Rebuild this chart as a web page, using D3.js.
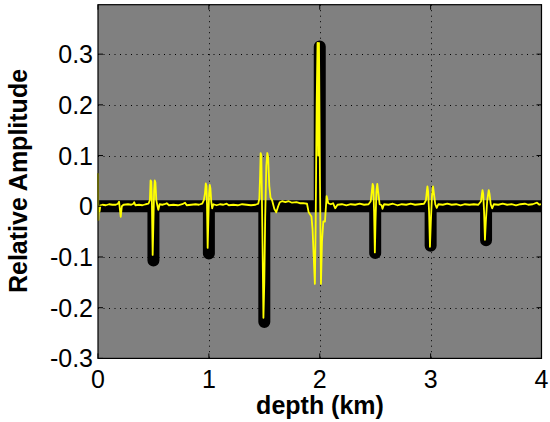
<!DOCTYPE html>
<html><head><meta charset="utf-8">
<script src="https://cdn.jsdelivr.net/npm/d3@7"></script>
<style>body{margin:0;background:#fff}svg{display:block}</style>
</head><body><svg id="c" width="550" height="422"></svg>
<script>
const xTicks = [0, 1, 2, 3, 4];
const yTicks = [-0.3, -0.2, -0.1, 0, 0.1, 0.2, 0.3];
const xDomain = [0, 4];
const yDomain = [-0.3, 0.3975];
const spikeDepth = [0.5, 1.0, 1.5, 2.0, 2.5, 3.0, 3.5];
const spikeAmp = [-0.107, -0.093, -0.228, 0.315, -0.092, -0.078, -0.067];
const traceX = [0.000,0.003,0.008,0.014,0.022,0.040,0.070,0.100,0.130,0.160,0.180,0.190,0.205,0.215,0.230,0.270,0.300,0.320,0.327,0.337,0.370,0.400,0.430,0.455,0.468,
0.474,0.481,0.486,0.493,0.499,0.506,0.512,0.518,0.526,0.535,0.544,0.556,0.580,0.600,0.620,0.640,0.680,0.720,0.760,0.785,0.800,0.840,0.880,0.910,0.940,0.955,
0.965,0.972,0.978,0.983,0.989,0.995,1.002,1.008,1.014,1.022,1.030,1.040,1.070,1.100,1.130,1.160,1.180,1.220,1.260,1.300,1.340,1.380,1.420,1.445,1.455,
1.462,1.467,1.473,1.482,1.492,1.500,1.508,1.518,1.527,1.534,1.545,1.556,1.570,1.590,1.608,1.625,1.640,1.660,1.690,1.720,1.750,1.790,1.820,1.850,1.885,1.900,1.925,1.935,
1.956,1.963,1.972,1.980,1.986,1.993,2.002,2.011,2.020,2.032,2.047,2.062,2.077,2.100,2.120,2.140,2.160,2.200,2.240,2.280,2.320,2.360,2.400,2.440,2.460,
2.470,2.477,2.483,2.490,2.497,2.503,2.511,2.519,2.526,2.540,2.558,2.566,2.580,2.620,2.660,2.700,2.740,2.780,2.820,2.860,2.900,2.940,2.958,
2.966,2.971,2.977,2.986,2.994,3.002,3.012,3.022,3.030,3.042,3.055,3.070,3.110,3.150,3.190,3.230,3.270,3.310,3.350,3.390,3.430,3.455,
3.463,3.468,3.474,3.482,3.490,3.498,3.510,3.524,3.531,3.542,3.555,3.570,3.610,3.650,3.690,3.730,3.770,3.810,3.850,3.880,3.920,3.960,3.980,4.000];
const traceY = [0.065,-0.027,-0.003,-0.010,0.002,0.003,0.002,0.004,0.003,0.003,0.005,0.009,-0.021,0.000,0.003,0.004,0.003,0.005,0.008,0.002,0.003,0.002,0.004,0.005,0.012,
0.051,0.049,0.010,-0.096,-0.040,0.030,0.051,0.047,0.012,0.002,-0.007,0.004,0.003,0.004,0.006,0.002,0.003,0.002,0.004,0.007,0.002,0.003,0.004,0.003,0.005,0.012,
0.026,0.045,0.040,0.005,-0.082,-0.030,0.025,0.042,0.035,0.008,-0.004,0.004,0.002,0.004,0.003,0.005,0.002,0.003,0.002,0.004,0.003,0.002,0.003,0.005,0.015,
0.060,0.105,0.100,-0.040,-0.220,-0.150,-0.020,0.080,0.105,0.098,0.040,0.017,0.012,-0.005,-0.012,0.000,0.008,0.010,0.008,0.010,0.007,0.008,0.006,0.006,0.005,-0.012,-0.020,-0.045,
-0.153,-0.040,0.200,0.322,0.100,0.322,0.050,-0.153,-0.070,-0.030,-0.030,0.020,0.006,0.004,0.006,-0.004,0.003,0.004,0.002,0.004,0.003,0.005,0.003,0.004,0.010,
0.030,0.044,0.040,-0.010,-0.091,-0.030,0.030,0.044,0.030,0.004,0.002,-0.005,0.004,0.003,0.005,0.002,0.004,0.003,0.005,0.003,0.004,0.005,0.012,
0.030,0.039,0.030,-0.010,-0.080,-0.030,0.020,0.039,0.025,0.004,-0.003,0.004,0.003,0.005,0.003,0.004,0.002,0.004,0.003,0.004,0.003,0.010,
0.025,0.032,0.025,-0.010,-0.066,-0.030,0.010,0.032,0.025,0.004,-0.004,0.004,0.003,0.005,0.003,0.004,0.002,0.004,0.005,0.003,0.004,0.007,0.003,0.004];

const L = 98, R = 541.5, T = 4.7, B = 358.4;
const svg = d3.select('#c');
const x = d3.scaleLinear().domain(xDomain).range([L, R]);
const y = d3.scaleLinear().domain(yDomain).range([B, T]);
const fmt = v => (Math.abs(v) < 1e-9 ? '0' : String(+v.toFixed(1)));

svg.append('rect').attr('x', L).attr('y', T).attr('width', R - L).attr('height', B - T).attr('fill', '#808080');

// grid
const g = svg.append('g').attr('stroke', '#000').attr('stroke-width', 1).attr('stroke-dasharray', '1,4.5');
g.selectAll('.gx').data(xTicks.filter(v => v > xDomain[0] && v < xDomain[1])).join('line')
  .attr('x1', d => Math.round(x(d)) + 0.5).attr('x2', d => Math.round(x(d)) + 0.5).attr('y1', T).attr('y2', B);
g.selectAll('.gy').data(yTicks.filter(v => v > yDomain[0])).join('line')
  .attr('y1', d => Math.round(y(d)) + 0.5).attr('y2', d => Math.round(y(d)) + 0.5).attr('x1', L).attr('x2', R);

// black reflectivity
const spikePts = [[0, 0]];
spikeDepth.forEach((d, i) => { spikePts.push([d, 0], [d, spikeAmp[i]], [d, 0]); });
spikePts.push([4, 0]);
const line = d3.line().x(d => x(d[0])).y(d => y(d[1]));
svg.append('path').attr('d', line(spikePts)).attr('fill', 'none').attr('stroke', '#000')
  .attr('stroke-width', 12).attr('stroke-linejoin', 'round').attr('stroke-linecap', 'butt');

// yellow trace
const tr = traceX.map((v, i) => [v, traceY[i]]);
svg.append('path').attr('d', line(tr)).attr('fill', 'none').attr('stroke', '#ffff00')
  .attr('stroke-width', 1.8).attr('stroke-linejoin', 'round');

// box & ticks
svg.append('rect').attr('x', L).attr('y', T).attr('width', R - L).attr('height', B - T)
  .attr('fill', 'none').attr('stroke', '#000').attr('stroke-width', 1.2);
const tk = svg.append('g').attr('stroke', '#000').attr('stroke-width', 1);
const TL = 5;
xTicks.forEach(v => {
  tk.append('line').attr('x1', x(v)).attr('x2', x(v)).attr('y1', B).attr('y2', B - TL);
  tk.append('line').attr('x1', x(v)).attr('x2', x(v)).attr('y1', T).attr('y2', T + TL);
});
yTicks.forEach(v => {
  tk.append('line').attr('y1', y(v)).attr('y2', y(v)).attr('x1', L).attr('x2', L + TL);
  tk.append('line').attr('y1', y(v)).attr('y2', y(v)).attr('x1', R).attr('x2', R - TL);
});

const font = "'Liberation Sans', Arial, Helvetica, sans-serif";
svg.append('g').selectAll('text').data(xTicks).join('text')
  .attr('x', d => x(d)).attr('y', 388).attr('text-anchor', 'middle')
  .attr('font-family', font).attr('font-size', 25).text(fmt);
svg.append('g').selectAll('text').data(yTicks).join('text')
  .attr('x', 93).attr('y', d => y(d) + 9).attr('text-anchor', 'end')
  .attr('font-family', font).attr('font-size', 25).text(fmt);

svg.append('text').attr('x', 320).attr('y', 414).attr('text-anchor', 'middle')
  .attr('font-family', font).attr('font-weight', 'bold').attr('font-size', 25).text('depth (km)');
svg.append('text').attr('transform', 'translate(27,181) rotate(-90)').attr('text-anchor', 'middle')
  .attr('font-family', font).attr('font-weight', 'bold').attr('font-size', 25).text('Relative Amplitude');
</script></body></html>
